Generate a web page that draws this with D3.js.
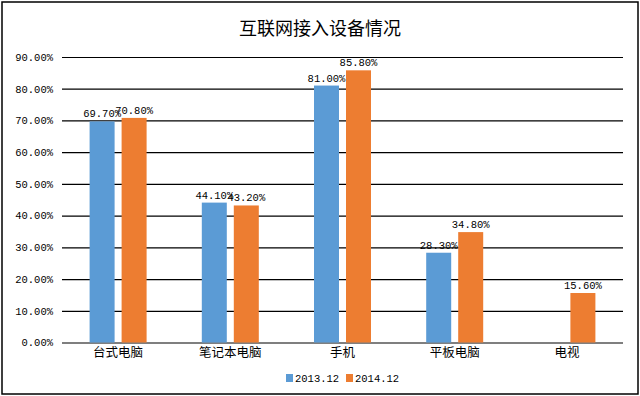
<!DOCTYPE html>
<html><head><meta charset="utf-8">
<script src="https://cdn.jsdelivr.net/npm/d3@7/dist/d3.min.js"></script>
<style>body{margin:0;background:#fff}svg{display:block}</style>
</head><body>
<script>
const title = "互联网接入设备情况";
const categories = ["台式电脑","笔记本电脑","手机","平板电脑","电视"];
const seriesNames = ["2013.12","2014.12"];
const values2013 = [69.7, 44.1, 81.0, 28.3, null];
const values2014 = [70.8, 43.2, 85.8, 34.8, 15.6];
const yTicks = [0,10,20,30,40,50,60,70,80,90];
const colors = ["#5B9BD5","#ED7D31"];

const W=640,H=396;
const svg=d3.select("body").append("svg").attr("width",W).attr("height",H);
svg.append("rect").attr("x",2).attr("y",2).attr("width",636).attr("height",392)
  .attr("fill","#fff").attr("stroke","#000").attr("stroke-width",1.5);

const m={left:62,right:623,top:57,bottom:342.5};
const x=d3.scaleBand().domain(categories).range([m.left,m.right]);
const y=d3.scaleLinear().domain([0,90]).range([m.bottom,m.top]);
const mono="'Liberation Mono','DejaVu Sans Mono',monospace";
const cjk="'Noto Sans CJK SC','Noto Sans',sans-serif";

svg.append("text").attr("x",320).attr("y",35).attr("text-anchor","middle")
  .attr("font-family",cjk).attr("font-size",18).attr("fill","#000").text(title);

// grid
const yAxis=d3.axisLeft(y).tickValues(yTicks).tickSize(-(m.right-m.left)).tickFormat(d=>d.toFixed(2)+"%");
const ga=svg.append("g").attr("transform",`translate(${m.left},0)`).call(yAxis);
ga.select(".domain").remove();
ga.selectAll(".tick line").attr("stroke","#000").attr("stroke-width",1.2);
ga.selectAll(".tick text").attr("x",-9).attr("font-family",mono).attr("font-size",10.5).attr("fill","#000");

// x axis labels
const xAxis=d3.axisBottom(x).tickSize(0).tickPadding(6);
const gx=svg.append("g").attr("transform",`translate(0,${m.bottom})`).call(xAxis);
gx.select(".domain").remove();
gx.selectAll(".tick text").attr("font-family",cjk).attr("font-size",12.5).attr("fill","#000");

const bw=25, gap=7;
const series=[values2013,values2014];
series.forEach((vals,si)=>{
  const off = si===0 ? -(gap/2+bw) : gap/2;
  const data=categories.map((c,i)=>({c,v:vals[i]})).filter(d=>d.v!=null);
  const g=svg.append("g");
  g.selectAll("rect").data(data).join("rect")
    .attr("x",d=>x(d.c)+x.bandwidth()/2+off).attr("width",bw)
    .attr("y",d=>y(d.v)).attr("height",d=>y(0)-y(d.v)).attr("fill",colors[si]);
  g.selectAll("text").data(data).join("text")
    .attr("x",d=>x(d.c)+x.bandwidth()/2+off+bw/2).attr("y",d=>y(d.v)-4)
    .attr("text-anchor","middle").attr("font-family",mono).attr("font-size",10.5).attr("fill","#000")
    .text(d=>d.v.toFixed(2)+"%");
});

// legend
const lg=svg.append("g");
const lx=[286,346];
seriesNames.forEach((n,i)=>{
  lg.append("rect").attr("x",lx[i]).attr("y",374).attr("width",7).attr("height",8).attr("fill",colors[i]);
  lg.append("text").attr("x",lx[i]+9).attr("y",382).attr("font-family",mono).attr("font-size",10.5).attr("fill","#000").text(n);
});
</script>
</body></html>
